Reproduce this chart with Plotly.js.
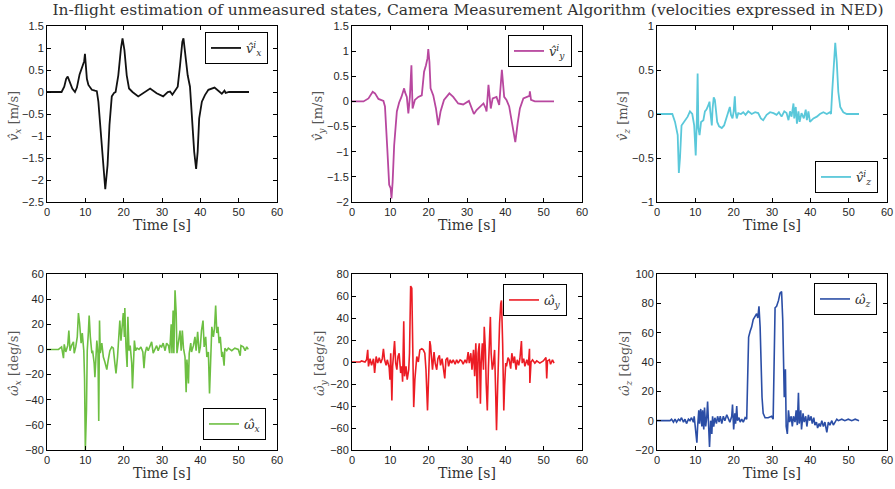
<!DOCTYPE html>
<html>
<head>
<meta charset="utf-8">
<script src="https://cdn.plot.ly/plotly-3.0.1.min.js"></script>
<style>html,body{margin:0;padding:0;background:#fff;}#chart{width:895px;height:489px;}</style>
</head>
<body>
<div id="chart"></div>
<script>
// ---------- data ----------
const chartTitle = 'In-flight estimation of unmeasured states, Camera Measurement Algorithm (velocities expressed in NED)';

// v_x estimate [m/s]
const tVx = [0, 3.8, 4.5, 5.0, 5.4, 5.9, 6.6, 7.3, 7.8, 8.5,
 9.2, 9.7, 9.9, 10.1, 10.4, 10.8, 11.7, 12.5, 13.0, 13.4,
 14.1, 14.7, 15.2, 15.8, 16.3, 16.9, 17.5, 17.9, 18.6, 19.3,
 19.7, 20.2, 20.8, 21.4, 22.3, 23.8, 25.6, 26.9, 28.6, 30.3,
 31.5, 32.1, 32.7, 33.4, 34.1, 34.7, 35.3, 35.6, 36.0, 36.7,
 37.3, 37.7, 38.4, 38.9, 39.3, 39.7, 40.4, 41.2, 42.1, 43.7,
 44.7, 45.6, 46.3, 46.6, 47.5, 52.7];
const vx = [0, 0, 0.12, 0.3, 0.35, 0.25, 0.08, 0.0, 0.1, 0.4,
 0.6, 0.7, 0.87, 0.6, 0.3, 0.16, 0.05, 0.03, 0.02, -0.22,
 -0.98, -1.73, -2.21, -1.66, -0.75, -0.1, -0.02, 0.0, 0.38, 1.0,
 1.22, 0.95, 0.38, 0.08, 0.0, -0.1, 0.0, 0.08, -0.03, -0.1,
 0.0, 0.01, -0.06, 0.02, 0.12, 0.6, 1.14, 1.22, 0.92, 0.38,
 0.12, -0.45, -1.36, -1.75, -1.36, -0.6, -0.22, -0.07, 0.05, 0.1,
 0.02, -0.04, 0.03, -0.02, 0.0, 0.0];

// v_y estimate [m/s]
const tVy = [0, 3.0, 4.3, 5.4, 6.0, 6.9, 8.2, 8.6, 9.2, 9.7,
 10.1, 10.3, 10.6, 11.0, 11.7, 12.3, 12.9, 13.6, 13.8, 14.3,
 14.7, 15.1, 15.5, 15.8, 16.4, 17.3, 18.2, 18.8, 19.3, 19.7,
 19.9, 20.2, 20.5, 21.2, 21.9, 22.5, 23.1, 24.0, 25.4, 26.4,
 27.7, 29.0, 30.5, 31.2, 31.8, 32.5, 33.6, 34.3, 34.9, 35.1,
 35.6, 35.8, 36.2, 36.7, 37.7, 38.4, 38.8, 39.1, 39.7, 40.3,
 41.0, 41.9, 42.6, 43.2, 43.8, 44.7, 45.6, 46.3, 46.4, 46.7,
 47.7, 52.7];
const vy = [0, 0, 0.06, 0.19, 0.16, 0.05, 0.01, -0.1, -0.93, -1.66,
 -1.73, -1.93, -1.6, -0.87, -0.2, -0.02, 0.09, 0.26, 0.19, 0.09,
 -0.24, 0.09, 0.72, -0.14, 0.03, 0.09, 0.12, 0.59, 0.72, 0.86,
 1.04, 0.79, 0.26, 0.12, -0.14, -0.47, -0.2, 0.03, 0.16, 0.09,
 -0.04, -0.06, 0.01, -0.14, -0.25, -0.17, -0.1, -0.04, -0.14, -0.2,
 0.33, 0.13, -0.14, 0.06, 0.09, -0.07, 0.33, 0.63, 0.09, 0.03,
 -0.1, -0.47, -0.81, -0.44, -0.14, 0.06, 0.09, 0.11, 0.2, 0.03,
 0.0, 0.0];

// v_z estimate [m/s]
const tVz = [0, 4.0, 4.7, 5.1, 5.4, 5.7, 6.0, 6.4, 7.1, 8.0,
 8.6, 9.2, 9.7, 10.1, 10.4, 10.6, 10.8, 11.1, 11.5, 12.1,
 12.5, 12.9, 13.4, 13.7, 13.9, 14.3, 14.5, 14.8, 15.1, 15.4,
 15.7, 16.2, 16.9, 17.5, 18.0, 18.6, 19.0, 19.3, 19.7, 20.0,
 20.3, 20.5, 20.8, 21.2, 21.9, 22.5, 23.1, 23.8, 24.7, 25.6,
 26.4, 27.1, 27.7, 28.6, 29.5, 30.4, 31.2, 31.8, 32.5, 33.2,
 33.8, 34.3, 34.7, 35.1, 35.6, 35.8, 36.2, 36.5, 36.9, 37.2,
 37.7, 38.3, 38.8, 39.1, 39.5, 39.9, 40.8, 41.7, 42.5, 43.4,
 44.3, 45.1, 45.4, 45.7, 46.2, 46.5, 46.9, 47.3, 47.8, 48.6,
 49.5, 52.7];
const vz = [0, 0, -0.09, -0.2, -0.24, -0.67, -0.5, -0.13, -0.09, -0.03,
 0.03, 0.0, -0.13, -0.47, -0.05, 0.46, -0.16, -0.24, -0.09, -0.07,
 0.03, 0.05, 0.1, 0.14, 0.03, -0.13, 0.06, 0.19, 0.16, 0.03,
 -0.09, -0.14, -0.16, -0.13, -0.05, 0.03, 0.08, -0.01, -0.05, 0.03,
 0.2, 0.03, -0.05, 0.01, 0.0, 0.02, -0.01, 0.03, 0.0, 0.02,
 0.01, -0.05, -0.07, -0.01, 0.02, 0.01, -0.01, 0.02, -0.03, 0.03,
 0.01, -0.07, 0.03, -0.03, 0.12, -0.05, 0.08, -0.11, 0.03, -0.09,
 0.01, -0.05, 0.05, -0.07, 0.03, -0.09, -0.05, -0.03, 0.0, 0.02,
 0.0, 0.02, 0.0, 0.25, 0.63, 0.81, 0.59, 0.25, 0.08, 0.02,
 0.0, 0.0];

// omega_x estimate [deg/s]
const tWx = [0, 3.0, 3.4, 3.8, 4.3, 4.5, 4.9, 5.4, 5.7, 6.0,
 6.4, 6.9, 7.1, 7.5, 7.9, 8.2, 8.5, 8.9, 9.2, 9.6,
 9.8, 10.0, 10.3, 10.5, 10.8, 11.0, 11.3, 11.7, 11.9, 12.3,
 12.5, 12.8, 13.0, 13.3, 13.5, 13.7, 13.9, 14.3, 14.7, 15.1,
 15.6, 16.0, 16.4, 16.9, 17.3, 17.7, 18.0, 18.4, 18.8, 19.0,
 19.3, 19.7, 19.9, 20.2, 20.3, 20.6, 20.9, 21.1, 21.4, 21.7,
 22.1, 22.3, 22.5, 22.8, 23.1, 23.5, 24.0, 24.5, 25.0, 25.3,
 25.6, 26.0, 26.4, 26.9, 27.3, 27.7, 28.2, 28.6, 29.0, 29.5,
 29.9, 30.3, 30.8, 31.2, 31.7, 32.0, 32.4, 32.6, 32.9, 33.1,
 33.4, 33.7, 33.9, 34.3, 34.7, 35.0, 35.3, 35.6, 36.0, 36.3,
 36.5, 36.9, 37.1, 37.5, 37.7, 38.2, 38.6, 38.9, 39.3, 39.7,
 40.0, 40.3, 40.7, 41.0, 41.4, 41.7, 42.1, 42.4, 42.7, 43.0,
 43.4, 43.7, 44.0, 44.3, 44.6, 44.9, 45.2, 45.6, 45.8, 46.2,
 46.4, 46.9, 47.3, 48.2, 49.0, 49.9, 50.4, 50.6, 51.2, 51.7,
 52.1, 52.5];
const wx = [0, 0, 1, 2, -7, 4, -2, 3, 15, -1,
 3, 6, -3, 2, 10, 29, 21, 5, 13, -1,
 -24, -80, -48, -1, 14, 27, 10, -3, -1, -11,
 -22, -6, 7, -3, -57, 23, -3, 5, -6, -10,
 -16, -8, -1, 2, 1, -11, -19, -6, 10, 23,
 7, 26, 29, 10, 33, 2, -14, 26, -1, 3,
 -11, -31, -16, 7, -1, 1, 0, 2, -2, -15,
 -3, 2, -1, 3, 6, -3, 1, 3, -1, 3,
 2, 5, -1, 5, 3, -3, 20, -3, 31, -3,
 47, 29, -3, 6, 15, -1, 15, 1, -6, -34,
 -8, -27, -3, 5, -2, 3, 10, -1, 14, -3,
 2, 15, 23, 2, 10, -6, -2, -35, -6, 18,
 10, 17, 35, 13, 18, 5, 10, -6, -2, -13,
 1, -1, 1, -1, 1, 0, -5, 3, 2, -1,
 2, 0];

// omega_y estimate [deg/s]
const tWy = [0, 2.1, 2.5, 3.4, 3.8, 4.1, 4.3, 4.7, 5.1, 5.6,
 5.9, 6.3, 6.7, 7.1, 7.5, 7.9, 8.2, 8.5, 8.9, 9.2,
 9.7, 9.9, 10.1, 10.4, 10.6, 10.9, 11.1, 11.4, 11.7, 12.0,
 12.3, 12.7, 13.0, 13.2, 13.5, 13.7, 14.1, 14.4, 14.8, 15.0,
 15.3, 15.6, 15.8, 16.1, 16.4, 16.9, 17.3, 17.7, 18.2, 18.6,
 19.0, 19.3, 19.7, 20.0, 20.3, 20.5, 20.8, 21.0, 21.4, 21.7,
 22.1, 22.4, 22.8, 23.1, 23.5, 23.8, 24.2, 24.5, 24.9, 25.2,
 25.6, 26.0, 26.4, 26.9, 27.3, 27.7, 28.2, 28.6, 29.0, 29.5,
 29.9, 30.3, 30.6, 31.0, 31.3, 31.7, 32.0, 32.3, 32.7, 32.9,
 33.2, 33.5, 33.7, 34.0, 34.3, 34.5, 34.8, 35.0, 35.3, 35.6,
 35.8, 36.1, 36.3, 36.6, 36.9, 37.2, 37.5, 37.7, 38.0, 38.3,
 38.5, 38.8, 39.0, 39.3, 39.6, 39.8, 40.1, 40.3, 40.7, 41.0,
 41.4, 41.7, 42.1, 42.4, 42.8, 43.1, 43.5, 43.8, 44.2, 44.4,
 44.8, 45.1, 45.6, 46.0, 46.3, 46.4, 46.7, 47.1, 47.7, 48.2,
 49.0, 49.9, 50.6, 50.8, 51.0, 51.5, 51.8, 52.3, 52.7];
const wy = [0, 0, 1, 0, 2, 11, -4, 3, -3, 3,
 -10, 5, -1, 4, -1, 3, 12, 2, -3, 2,
 -5, -16, 8, -35, -4, 14, 19, -1, -7, 5,
 8, -10, -4, -18, 37, -13, -4, -16, -7, 8,
 69, 67, 8, -41, -16, 5, 0, 11, 12, 11,
 8, -7, -44, -16, 19, 15, 5, -7, 9, -1,
 -7, 3, 6, -3, 3, -7, -15, 2, 4, -4,
 2, -1, 2, -2, 2, -1, 2, 1, -2, 2,
 -1, 9, -1, 8, -7, 11, -13, 17, -33, 8,
 17, -38, -1, 17, -7, 32, 11, -19, -44, -4,
 14, 41, 8, -7, -1, 11, -31, -62, -22, 22,
 35, 53, 56, 17, -44, -22, -1, -4, 4, 2,
 -6, 8, -1, 5, -7, 2, -3, 3, 19, -1,
 3, -4, 2, -3, 12, -19, 0, 2, -1, 1,
 -1, 1, 4, -15, 1, 2, -2, 2, -1];

// omega_z estimate [deg/s]
const tWz = [0, 3.4, 3.8, 4.3, 4.7, 5.1, 5.6, 6.0, 6.4, 6.9,
 7.3, 7.7, 8.2, 8.6, 9.0, 9.5, 9.7, 10.1, 10.4, 10.6,
 10.9, 11.1, 11.4, 11.7, 11.9, 12.2, 12.4, 12.7, 13.0, 13.2,
 13.5, 13.7, 14.0, 14.3, 14.5, 14.8, 15.1, 15.5, 15.8, 16.2,
 16.5, 16.9, 17.3, 17.7, 18.2, 18.6, 19.0, 19.5, 19.7, 20.0,
 20.3, 20.5, 20.8, 21.0, 21.4, 21.7, 22.1, 22.5, 23.0, 23.4,
 23.7, 23.9, 24.3, 24.7, 25.1, 25.6, 26.0, 26.3, 26.6, 26.9,
 27.1, 27.4, 27.7, 28.2, 29.0, 29.9, 30.3, 30.6, 30.8, 31.2,
 31.7, 32.1, 32.5, 32.8, 33.0, 33.2, 33.5, 33.7, 34.0, 34.3,
 34.6, 35.0, 35.3, 35.6, 36.0, 36.3, 36.6, 36.9, 37.1, 37.5,
 37.7, 38.1, 38.4, 38.8, 39.1, 39.5, 39.8, 40.2, 40.5, 40.9,
 41.2, 41.6, 41.9, 42.3, 42.6, 43.0, 43.4, 43.8, 44.3, 44.7,
 45.1, 45.6, 46.0, 46.4, 46.9, 47.3, 48.2, 49.0, 49.9, 50.8,
 51.7, 52.7];
const wz = [0, 0, 1, -1, 1, -1, 1, 0, 2, -1,
 1, -2, 1, 0, 2, -1, 3, -9, -15, -4,
 7, -2, 8, -4, 7, -6, 9, -4, 3, 13,
 -11, -18, 0, -9, 3, -4, 2, -2, 3, -1,
 3, -2, 3, 0, 4, 2, -1, 3, 11, -6,
 5, -2, 10, 0, 2, -1, 1, -1, 2, 1,
 35, 57, 61, 64, 69, 71, 73, 70, 78, 64,
 44, 16, 5, 2, 2, 3, 1, 57, 77, 78,
 82, 87, 88, 69, 39, 16, 35, -4, -9, 7,
 -1, 3, -4, 3, -1, 7, -3, 19, -2, 7,
 -6, 5, -1, 3, -4, 4, 0, 3, -2, 2,
 -3, -1, -5, -2, -4, 0, -4, -1, -8, -1,
 -3, 0, -3, -1, 1, 0, 1, 0, 1, 0,
 1, 0];

const legendNames = [
  '<i>v\u0302<sup>i</sup><sub>x</sub></i>',
  '<i>v\u0302<sup>i</sup><sub>y</sub></i>',
  '<i>v\u0302<sup>i</sup><sub>z</sub></i>',
  '<i>\u03c9\u0302<sub>x</sub></i>',
  '<i>\u03c9\u0302<sub>y</sub></i>',
  '<i>\u03c9\u0302<sub>z</sub></i>'
];
const yTitles = [
  '<i>v\u0302<sub>x</sub></i> [m/s]',
  '<i>v\u0302<sub>y</sub></i> [m/s]',
  '<i>v\u0302<sub>z</sub></i> [m/s]',
  '<i>\u03c9\u0302<sub>x</sub></i> [deg/s]',
  '<i>\u03c9\u0302<sub>y</sub></i> [deg/s]',
  '<i>\u03c9\u0302<sub>z</sub></i> [deg/s]'
];
const xTitle = 'Time [s]';
const yRanges = [[-2.5, 1.5], [-2, 1.5], [-1, 1], [-80, 60], [-80, 80], [-20, 100]];
const yDticks = [0.5, 0.5, 0.5, 20, 20, 20];
const xRange = [0, 60];
const xDtick = 10;

// ---------- styling / layout ----------
const W = 895, H = 489;
const colors = ['#111111', '#b8479f', '#5ac8da', '#6dbf42', '#ec1c24', '#2b4ea6'];
const xs = [tVx, tVy, tVz, tWx, tWy, tWz];
const ys = [vx, vy, vz, wx, wy, wz];

// pixel boxes of each plot area [left, right, top, bottom]
const boxes = [
  [47, 277, 26, 202], [352, 582, 26, 202], [657, 887, 26, 202],
  [47, 277, 274, 450], [352, 582, 274, 450], [657, 887, 274, 450]
];
// legend anchors [rightPx, yPx, anchor]
const legendPos = [
  [268, 32, 'top'], [572, 35, 'top'], [878, 193, 'bottom'],
  [266, 440, 'bottom'], [567, 284, 'top'], [877, 283, 'top']
];
const yTitleX = [14, 318, 623, 14, 320, 625];

const traces = [];
const layout = {
  width: W, height: H,
  margin: {l: 0, r: 0, t: 0, b: 0},
  paper_bgcolor: '#ffffff', plot_bgcolor: '#ffffff',
  showlegend: true,
  title: {
    text: chartTitle,
    font: {family: 'DejaVu Serif, serif', size: 15.5, color: '#333333'},
    x: 468 / W, xanchor: 'center', y: 1 - 10 / H, yanchor: 'middle'
  },
  annotations: []
};

const tickFont = {family: 'Liberation Sans, Arial, sans-serif', size: 11, color: '#262626'};

for (let i = 0; i < 6; i++) {
  const n = i + 1;
  const b = boxes[i];
  const xk = n === 1 ? 'xaxis' : 'xaxis' + n;
  const yk = n === 1 ? 'yaxis' : 'yaxis' + n;
  const lk = n === 1 ? 'legend' : 'legend' + n;
  const common = {
    showline: true, mirror: 'ticks', linecolor: '#000', linewidth: 1,
    ticks: 'inside', ticklen: 4, tickcolor: '#000', tickwidth: 1,
    showgrid: false, zeroline: false, tickfont: tickFont, fixedrange: true
  };
  layout[xk] = Object.assign({}, common, {
    domain: [b[0] / W, b[1] / W], range: xRange, tick0: 0, dtick: xDtick,
    anchor: n === 1 ? 'y' : 'y' + n
  });
  layout[yk] = Object.assign({}, common, {
    domain: [1 - b[3] / H, 1 - b[2] / H], range: yRanges[i], tick0: 0, dtick: yDticks[i],
    anchor: n === 1 ? 'x' : 'x' + n
  });
  const lp = legendPos[i];
  layout[lk] = {
    x: lp[0] / W, xanchor: 'right', y: 1 - lp[1] / H, yanchor: lp[2],
    bgcolor: '#ffffff', bordercolor: '#000', borderwidth: 1,
    font: {family: 'DejaVu Serif, serif', size: 13, color: '#333'},
    itemwidth: 30, tracegroupgap: 0
  };
  traces.push({
    type: 'scatter', mode: 'lines',
    x: xs[i], y: ys[i],
    xaxis: n === 1 ? 'x' : 'x' + n,
    yaxis: n === 1 ? 'y' : 'y' + n,
    legend: lk,
    name: legendNames[i],
    line: {color: colors[i], width: i < 3 ? 1.8 : 1.6},
    hoverinfo: 'skip'
  });
  // x title
  layout.annotations.push({
    text: xTitle, xref: 'paper', yref: 'paper',
    x: (b[0] + b[1]) / 2 / W, y: 1 - (b[3] + 23) / H,
    xanchor: 'center', yanchor: 'middle', showarrow: false,
    font: {family: 'DejaVu Serif, serif', size: 14, color: '#333'}
  });
  // y title
  layout.annotations.push({
    text: yTitles[i], xref: 'paper', yref: 'paper',
    x: yTitleX[i] / W, y: 1 - ((b[2] + b[3]) / 2 + 2) / H,
    xanchor: 'center', yanchor: 'middle', textangle: -90, showarrow: false,
    font: {family: 'DejaVu Serif, serif', size: 13, color: '#555'}
  });
}

Plotly.newPlot('chart', traces, layout, {staticPlot: true, displayModeBar: false});
</script>
</body>
</html>
